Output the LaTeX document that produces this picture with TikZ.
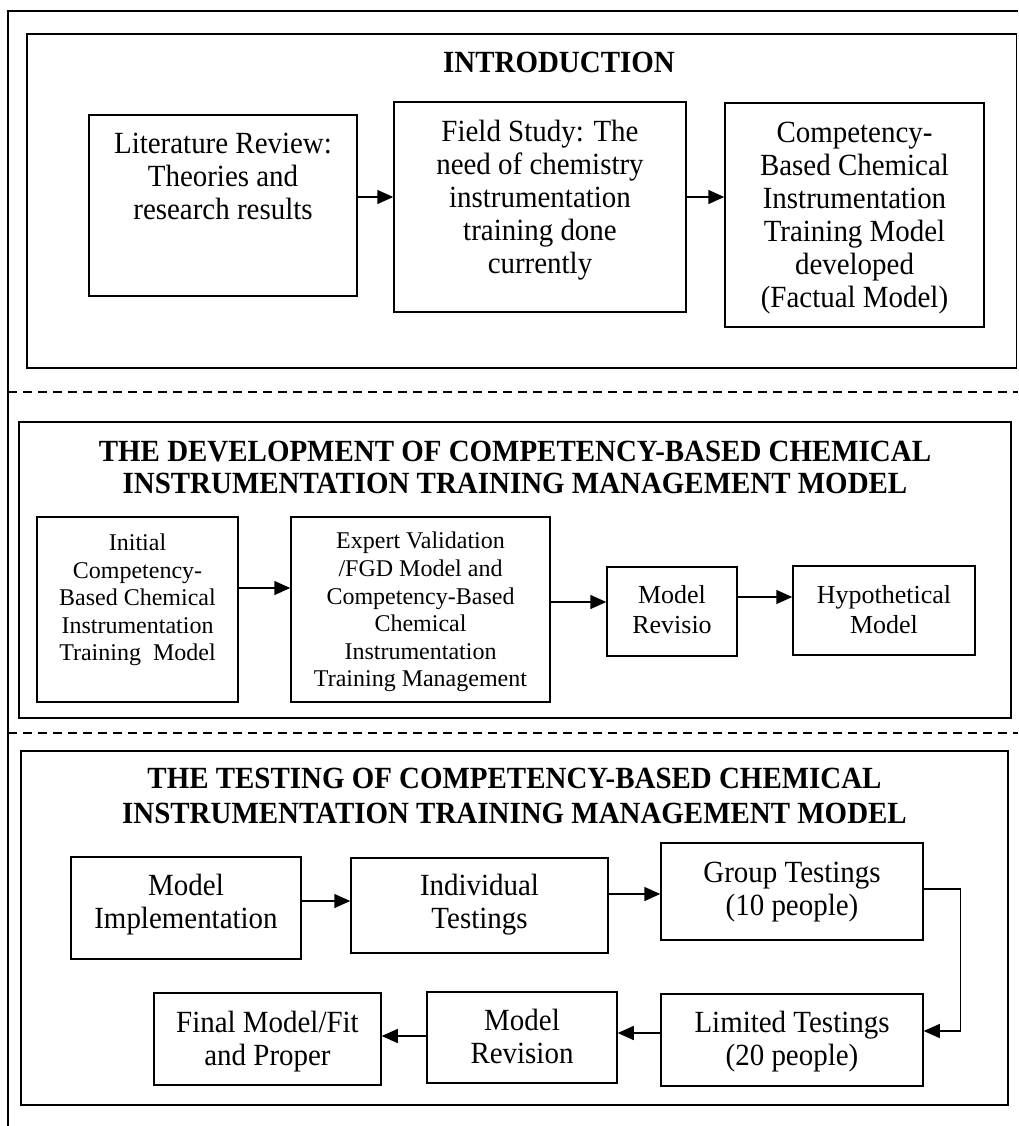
\documentclass[tikz,border=0pt]{standalone}
\usepackage{fontspec}
\setmainfont{Liberation Serif}
\newfontfamily\tallfont[FakeStretch=0.94]{Liberation Serif}
\usetikzlibrary{arrows.meta}
\begin{document}
\begin{tikzpicture}[x=1pt,y=-1pt,
  frame/.style={draw=black,line width=1.5pt},
  box/.style={draw=black,line width=1.5pt,inner sep=0pt,align=center,font=\tallfont\fontsize{30.8}{33}\selectfont},
  smallbox/.style={box,font=\rmfamily\fontsize{24}{27.6}\selectfont},
  midbox/.style={box,font=\rmfamily\fontsize{26}{30}\selectfont},
  head/.style={anchor=base,inner sep=0pt,font=\tallfont\fontsize{30.8}{33}\selectfont\bfseries},
  arr/.style={line width=1.5pt,-{Triangle[length=16pt,width=14pt]}},
  sepline/.style={line width=1.5pt,dash pattern=on 9pt off 6pt}]
\useasboundingbox (0,0) rectangle (1018,1126);

% outer frame and separators
\draw[frame] (1018,11) -- (8,11) -- (8,1126);
\draw[sepline] (8,392) -- (1018,392);
\draw[sepline] (8,733) -- (1018,733);

% section frames
\draw[frame] (27,34) rectangle (1016.5,368);
\draw[frame] (19,422) rectangle (1011,718);
\draw[frame] (21,751) rectangle (1008,1105);

% INTRODUCTION
\node[head] (introh) at (559,73) {INTRODUCTION};
\node[box,minimum width=268pt,minimum height=181pt,text depth=59pt] (lit) at (223,205.5)
  {Literature Review:\\Theories and\\research results};
\node[box,minimum width=292pt,minimum height=210pt,text depth=21pt] (field) at (540,207)
  {Field Study: The\\need of chemistry\\instrumentation\\training done\\currently};
\node[box,minimum width=259pt,minimum height=224pt,text depth=0pt] (comp) at (854.5,215)
  {Competency-\\Based Chemical\\Instrumentation\\Training Model\\developed\\(Factual Model)};
\draw[arr] ([yshift=8.5pt]lit.east) coordinate (a1) -- (a1 -| field.west);
\draw[arr] ([yshift=10pt]field.east) coordinate (a2) -- (a2 -| comp.west);

% DEVELOPMENT
\node[head] (devh1) at (515,461) {THE DEVELOPMENT OF COMPETENCY-BASED CHEMICAL};
\node[head] (devh2) at (515,493) {INSTRUMENTATION TRAINING MANAGEMENT MODEL};
\node[smallbox,minimum width=201pt,minimum height=185pt,text depth=24.4pt] (init) at (137.5,609.5)
  {Initial\\Competency-\\Based Chemical\\Instrumentation\\Training\ \ Model};
\node[smallbox,minimum width=259pt,minimum height=185pt,text depth=0pt] (expert) at (420.5,609.5)
  {Expert Validation\\/FGD Model and\\Competency-Based\\Chemical\\Instrumentation\\Training Management};
\node[midbox,minimum width=130pt,minimum height=89pt,text depth=5pt] (revisio) at (672,611.5)
  {Model\\Revisio};
\node[midbox,minimum width=182pt,minimum height=89pt,text depth=3pt] (hyp) at (884,610.5)
  {Hypothetical\\Model};
\draw[arr] ([yshift=21.5pt]init.east) coordinate (a3) -- (a3 -| expert.west);
\draw[arr] ([yshift=7.5pt]expert.east) coordinate (a4) -- (a4 -| revisio.west);
\draw[arr] ([yshift=14.5pt]revisio.east) coordinate (a5) -- (a5 -| hyp.west);

% TESTING
\node[head] (testh1) at (514.5,788) {THE TESTING OF COMPETENCY-BASED CHEMICAL};
\node[head] (testh2) at (514.5,823) {INSTRUMENTATION TRAINING MANAGEMENT MODEL};
\node[box,minimum width=230pt,minimum height=102pt,text depth=12.8pt] (impl) at (186,908)
  {Model\\Implementation};
\node[box,minimum width=257pt,minimum height=95pt,text depth=7.8pt] (indiv) at (479.5,905.5)
  {Individual\\Testings};
\node[box,minimum width=262pt,minimum height=97pt,text depth=6pt] (group) at (792,891.5)
  {Group Testings\\(10 people)};
\node[box,minimum width=262pt,minimum height=92pt,text depth=3pt] (limited) at (792,1040)
  {Limited Testings\\(20 people)};
\node[box,minimum width=190pt,minimum height=91pt,text depth=2pt] (revision) at (522,1037.5)
  {Model\\Revision};
\node[box,minimum width=227pt,minimum height=92pt,text depth=1pt] (final) at (267.5,1039)
  {Final Model/Fit\\and Proper};
\draw[arr] ([yshift=7pt]impl.east) coordinate (a6) -- (a6 -| indiv.west);
\draw[arr] ([yshift=11.5pt]indiv.east) coordinate (a7) -- (a7 -| group.west);
\draw[line width=1.2pt,-{Triangle[length=16pt,width=14pt]}] ([yshift=2.5pt]group.east) -- ++(37,0) |- ([yshift=9pt]limited.east);
\draw[arr] ([yshift=7pt]limited.west) coordinate (a9) -- (a9 -| revision.east);
\draw[arr] ([yshift=1.5pt]revision.west) coordinate (a10) -- (a10 -| final.east);
\end{tikzpicture}
\end{document}
